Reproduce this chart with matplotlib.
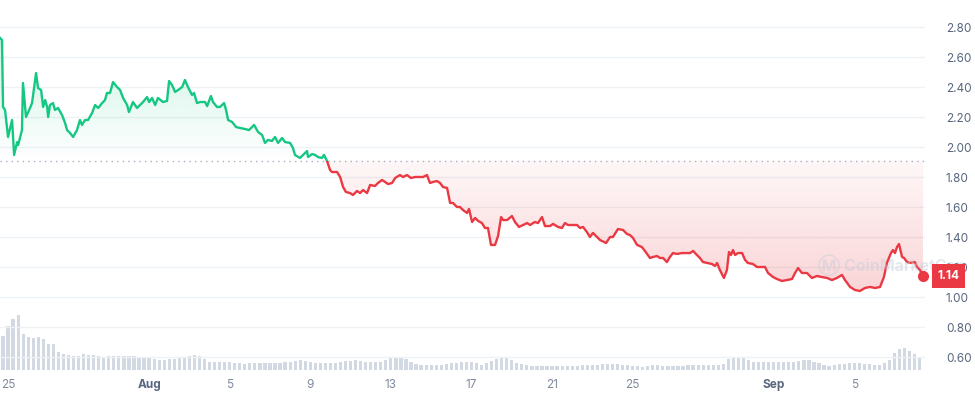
import numpy as np
import pandas as pd
import matplotlib
matplotlib.use("Agg")
import matplotlib.pyplot as plt
import matplotlib.dates as mdates
import matplotlib.transforms as mtransforms
from matplotlib.patches import Rectangle

plt.rcParams["font.family"] = ["Inter", "DejaVu Sans"]

# Datos (dias desde el 25 de julio, precio en USD)
start = pd.Timestamp("2023-07-25")
price_days = [
    -0.40, -0.30, -0.25, -0.15, 0.00, 0.20, 0.30, 0.45, 0.50, 0.69, 0.74, 0.89,
    1.09, 1.19, 1.39, 1.49, 1.64, 1.74, 1.84, 1.94, 1.99, 2.08, 2.23, 2.33,
    2.48, 2.68, 2.83, 2.93, 3.08, 3.23, 3.42, 3.57, 3.67, 3.82, 3.97, 4.17,
    4.32, 4.47, 4.67, 4.81, 4.91, 5.06, 5.21, 5.41, 5.56, 5.71, 5.91, 6.00,
    6.20, 6.40, 6.55, 6.70, 6.90, 7.00, 7.15, 7.30, 7.44, 7.69, 7.89, 7.99,
    8.14, 8.29, 8.44, 8.64, 8.78, 8.93, 9.13, 9.23, 9.38, 9.53, 9.78, 9.88,
    10.07, 10.17, 10.37, 10.52, 10.72, 10.82, 10.92, 11.12, 11.32, 11.51, 11.76, 11.96,
    12.21, 12.41, 12.61, 12.75, 12.90, 13.10, 13.25, 13.40, 13.60, 13.75, 14.00, 14.14,
    14.24, 14.49, 14.64, 14.84, 14.89, 15.09, 15.24, 15.38, 15.58, 15.68, 15.83, 15.98,
    16.08, 16.33, 16.48, 16.63, 16.77, 16.97, 17.12, 17.32, 17.47, 17.62, 17.82, 17.97,
    18.21, 18.36, 18.56, 18.71, 18.86, 19.06, 19.21, 19.45, 19.60, 19.80, 20.00, 20.20,
    20.40, 20.60, 20.79, 20.94, 21.09, 21.29, 21.44, 21.59, 21.79, 21.94, 22.08, 22.28,
    22.43, 22.58, 22.78, 22.88, 23.03, 23.18, 23.33, 23.52, 23.67, 23.82, 23.97, 24.17,
    24.32, 24.47, 24.57, 24.77, 25.01, 25.16, 25.36, 25.56, 25.76, 25.91, 26.15, 26.30,
    26.50, 26.65, 26.90, 27.05, 27.30, 27.49, 27.64, 27.79, 28.24, 28.39, 28.54, 28.73,
    28.88, 29.03, 29.23, 29.38, 29.68, 29.88, 30.02, 30.27, 30.52, 30.72, 30.87, 31.02,
    31.22, 31.46, 31.61, 31.86, 32.01, 32.21, 32.36, 32.51, 32.70, 32.85, 33.00, 33.20,
    33.45, 33.70, 33.85, 34.00, 34.19, 34.34, 34.49, 34.69, 34.94, 35.09, 35.19, 35.33,
    35.53, 35.68, 35.78, 35.88, 35.98, 36.08, 36.23, 36.43, 36.58, 36.72, 36.97, 37.17,
    37.42, 37.57, 37.72, 37.97, 38.16, 38.41, 38.66, 38.91, 39.06, 39.21, 39.40, 39.65,
    39.90, 40.15, 40.40, 40.65, 40.89, 41.14, 41.39, 41.54, 41.79, 42.03, 42.28, 42.53,
    42.78, 43.03, 43.28, 43.47, 43.62, 43.82, 43.92, 44.02, 44.12, 44.22, 44.37, 44.47,
    44.62, 44.76, 45.01, 45.11, 45.26, 45.41,
]
prices = [
    2.727, 2.713, 2.267, 2.247, 2.067, 2.180, 1.947, 2.033, 2.013, 2.113, 2.427, 2.200,
    2.260, 2.293, 2.493, 2.393, 2.380, 2.267, 2.313, 2.267, 2.200, 2.280, 2.293, 2.247,
    2.260, 2.213, 2.160, 2.113, 2.093, 2.067, 2.113, 2.180, 2.147, 2.180, 2.180, 2.227,
    2.280, 2.260, 2.293, 2.313, 2.360, 2.360, 2.433, 2.400, 2.380, 2.327, 2.280, 2.233,
    2.300, 2.260, 2.280, 2.300, 2.333, 2.300, 2.327, 2.280, 2.327, 2.300, 2.307, 2.440,
    2.413, 2.367, 2.380, 2.400, 2.447, 2.400, 2.347, 2.360, 2.293, 2.300, 2.300, 2.273,
    2.340, 2.300, 2.267, 2.267, 2.293, 2.247, 2.180, 2.167, 2.133, 2.127, 2.120, 2.113,
    2.147, 2.100, 2.080, 2.027, 2.047, 2.040, 2.067, 2.027, 2.060, 2.033, 2.027, 1.993,
    1.947, 1.927, 1.947, 1.973, 1.933, 1.953, 1.947, 1.933, 1.927, 1.947, 1.907, 1.847,
    1.833, 1.833, 1.800, 1.733, 1.700, 1.693, 1.680, 1.707, 1.693, 1.713, 1.693, 1.747,
    1.740, 1.760, 1.780, 1.767, 1.753, 1.760, 1.793, 1.813, 1.800, 1.813, 1.793, 1.800,
    1.800, 1.800, 1.813, 1.760, 1.767, 1.773, 1.760, 1.733, 1.727, 1.627, 1.627, 1.600,
    1.600, 1.580, 1.560, 1.587, 1.500, 1.527, 1.507, 1.493, 1.460, 1.460, 1.347, 1.347,
    1.407, 1.533, 1.513, 1.513, 1.540, 1.500, 1.467, 1.480, 1.493, 1.480, 1.500, 1.493,
    1.533, 1.473, 1.473, 1.487, 1.467, 1.460, 1.493, 1.480, 1.480, 1.460, 1.467, 1.433,
    1.400, 1.427, 1.400, 1.380, 1.360, 1.400, 1.400, 1.453, 1.447, 1.420, 1.413, 1.393,
    1.347, 1.333, 1.307, 1.260, 1.267, 1.273, 1.260, 1.260, 1.233, 1.267, 1.293, 1.287,
    1.293, 1.293, 1.293, 1.307, 1.280, 1.260, 1.233, 1.227, 1.220, 1.207, 1.227, 1.180,
    1.127, 1.180, 1.300, 1.280, 1.313, 1.280, 1.293, 1.293, 1.247, 1.227, 1.220, 1.200,
    1.200, 1.200, 1.160, 1.133, 1.120, 1.107, 1.113, 1.120, 1.160, 1.193, 1.160, 1.160,
    1.127, 1.140, 1.133, 1.127, 1.113, 1.127, 1.147, 1.113, 1.067, 1.047, 1.040, 1.060,
    1.067, 1.060, 1.067, 1.133, 1.227, 1.293, 1.313, 1.293, 1.333, 1.353, 1.267, 1.260,
    1.233, 1.227, 1.233, 1.200, 1.180, 1.140,
]
baseline = 1.91

# Volumen cada 6 horas (unidades relativas), empieza el 24 jul 18:00
volume = [
    34,
    44, 51, 55, 36,   33, 32, 33, 31,   26, 26, 18, 16,   15, 14, 14, 16,
    15, 15, 14, 13,   14, 14, 14, 14,   14, 14, 13, 13,   12, 11, 10, 10,
    11, 11, 12, 13,   14, 15, 14, 11,   8, 8, 8, 8,       8, 7, 7, 6,
    7, 7, 7, 7,       7, 7, 7, 8,       8, 9, 10, 9,      8, 7, 7, 7,
    7, 7, 8, 9,       9, 10, 9, 8,      8, 8, 8, 10,      12, 13, 13, 11,
    8, 6, 5, 5,       5, 5, 5, 6,       7, 7, 8, 8,       8, 7, 5, 7,
    9, 11, 12, 12,    10, 7, 6, 5,      4, 4, 4, 4,       4, 4, 4, 4,
    4, 4, 5, 5,       5, 5, 6, 6,       6, 6, 5, 5,       4, 4, 3, 4,
    5, 5, 4, 4,       4, 4, 4, 5,       5, 5, 5, 5,       5, 5, 6, 11,
    12, 13, 13, 10,   8, 8, 8, 8,       8, 8, 8, 8,       8, 9, 10, 10,
    8, 7, 5, 4,       5, 6, 6, 7,       7, 7, 6, 6,       5, 5, 7, 10,
    17, 21, 22, 19,   16, 12,
]
vol_days = [-0.25 + 0.25 * i for i in range(len(volume))]

x_ticks = ["2023-07-25", "2023-08-01", "2023-08-05", "2023-08-09", "2023-08-13",
           "2023-08-17", "2023-08-21", "2023-08-25", "2023-09-01", "2023-09-05"]
x_labels = ["25", "Aug", "5", "9", "13", "17", "21", "25", "Sep", "5"]
y_ticks = [0.60, 0.80, 1.00, 1.20, 1.40, 1.60, 1.80, 2.00, 2.20, 2.40, 2.60, 2.80]

green = "#16c784"
red = "#ea3943"
grey_txt = "#58667e"

t = mdates.date2num(start + pd.to_timedelta(price_days, unit="D"))
p = np.array(prices)
tv = mdates.date2num(start + pd.to_timedelta(vol_days, unit="D"))

fig = plt.figure(figsize=(9.75, 3.96), dpi=100)
ax = fig.add_axes([0.0, 24 / 396, 925 / 975, 372 / 396])
axv = ax.twinx()
ax.set_zorder(axv.get_zorder() + 1)
ax.patch.set_visible(False)

xmin = mdates.date2num(start - pd.Timedelta(days=0.40))
xmax = mdates.date2num(start + pd.Timedelta(days=45.51))
ymin, ymax = 0.5, 2.98

# Barras de volumen
axv.bar(tv, volume, width=0.16, color="#d3d9e2", zorder=1)
axv.set_ylim(-2, 370)
axv.set_yticks([])
for s in axv.spines.values():
    s.set_visible(False)

# Lineas de cuadricula
for yt in y_ticks:
    ax.axhline(yt, color="#eff2f5", lw=1, zorder=0)

# Rellenos con degradado
def gradient_fill(top, bottom, y_lo, y_hi, color, a_lo, a_hi):
    poly = ax.fill_between(t, top, bottom, color="none", lw=0)
    path = poly.get_paths()[0]
    poly.remove()
    rgb = matplotlib.colors.to_rgb(color)
    grad = np.zeros((100, 2, 4))
    grad[:, :, :3] = rgb
    grad[:, :, 3] = np.linspace(a_lo, a_hi, 100)[:, None]
    im = ax.imshow(grad, extent=[xmin, xmax, y_lo, y_hi], origin="lower",
                   aspect="auto", interpolation="bicubic", zorder=1)
    im.set_clip_path(path, ax.transData)

gradient_fill(np.maximum(p, baseline), baseline, baseline, 2.75, green, 0.0, 0.22)
gradient_fill(np.minimum(p, baseline), baseline, 1.0, baseline, red, 0.22, 0.04)

# Linea de precio, verde sobre la base y roja debajo
lg, = ax.plot(t, p, color=green, lw=1.7, zorder=3, solid_joinstyle="round")
lr, = ax.plot(t, p, color=red, lw=1.7, zorder=3, solid_joinstyle="round")
lg.set_clip_path(Rectangle((xmin, baseline), xmax - xmin, 5, transform=ax.transData))
lr.set_clip_path(Rectangle((xmin, -5), xmax - xmin, baseline + 5, transform=ax.transData))

ax.axhline(baseline, color="#a6b0c3", lw=1, ls=(0, (1, 3)), zorder=2)

# Ultimo precio y marca de agua
ax.plot(t[-1], p[-1], "o", color=red, ms=7, zorder=4, clip_on=False)
trans = mtransforms.blended_transform_factory(ax.transAxes, ax.transData)
ax.text(892 / 925, 1.215, "\u24c2 CoinMarketCap", transform=trans, fontsize=11.5,
        fontweight="bold", color="#c5ccd8", alpha=0.45, ha="center", va="center",
        zorder=5, clip_on=False)

ax.set_xlim(xmin, xmax)
ax.set_ylim(ymin, ymax)
ax.yaxis.tick_right()
ax.set_yticks(y_ticks)
ax.set_yticklabels([f"{v:.2f}" for v in y_ticks], fontsize=8.5, color=grey_txt)
ax.tick_params(axis="y", length=0, pad=15)
ax.set_xticks(mdates.date2num(pd.to_datetime(x_ticks)))
ax.set_xticklabels(x_labels, fontsize=8.5, color="#808a9d")
for lab in ax.get_xticklabels():
    if lab.get_text() in ("Aug", "Sep"):
        lab.set_fontweight("bold")
        lab.set_color(grey_txt)
ax.tick_params(axis="x", length=0, pad=5)
for s in ax.spines.values():
    s.set_visible(False)

ax.text(1.0135, p[-1], "1.14", transform=trans, fontsize=8.5, fontweight="bold",
        color="white", ha="left", va="center", zorder=6, clip_on=False,
        bbox=dict(boxstyle="square,pad=0.5", fc=red, ec="none"))

fig.savefig("out.png", dpi=100)
